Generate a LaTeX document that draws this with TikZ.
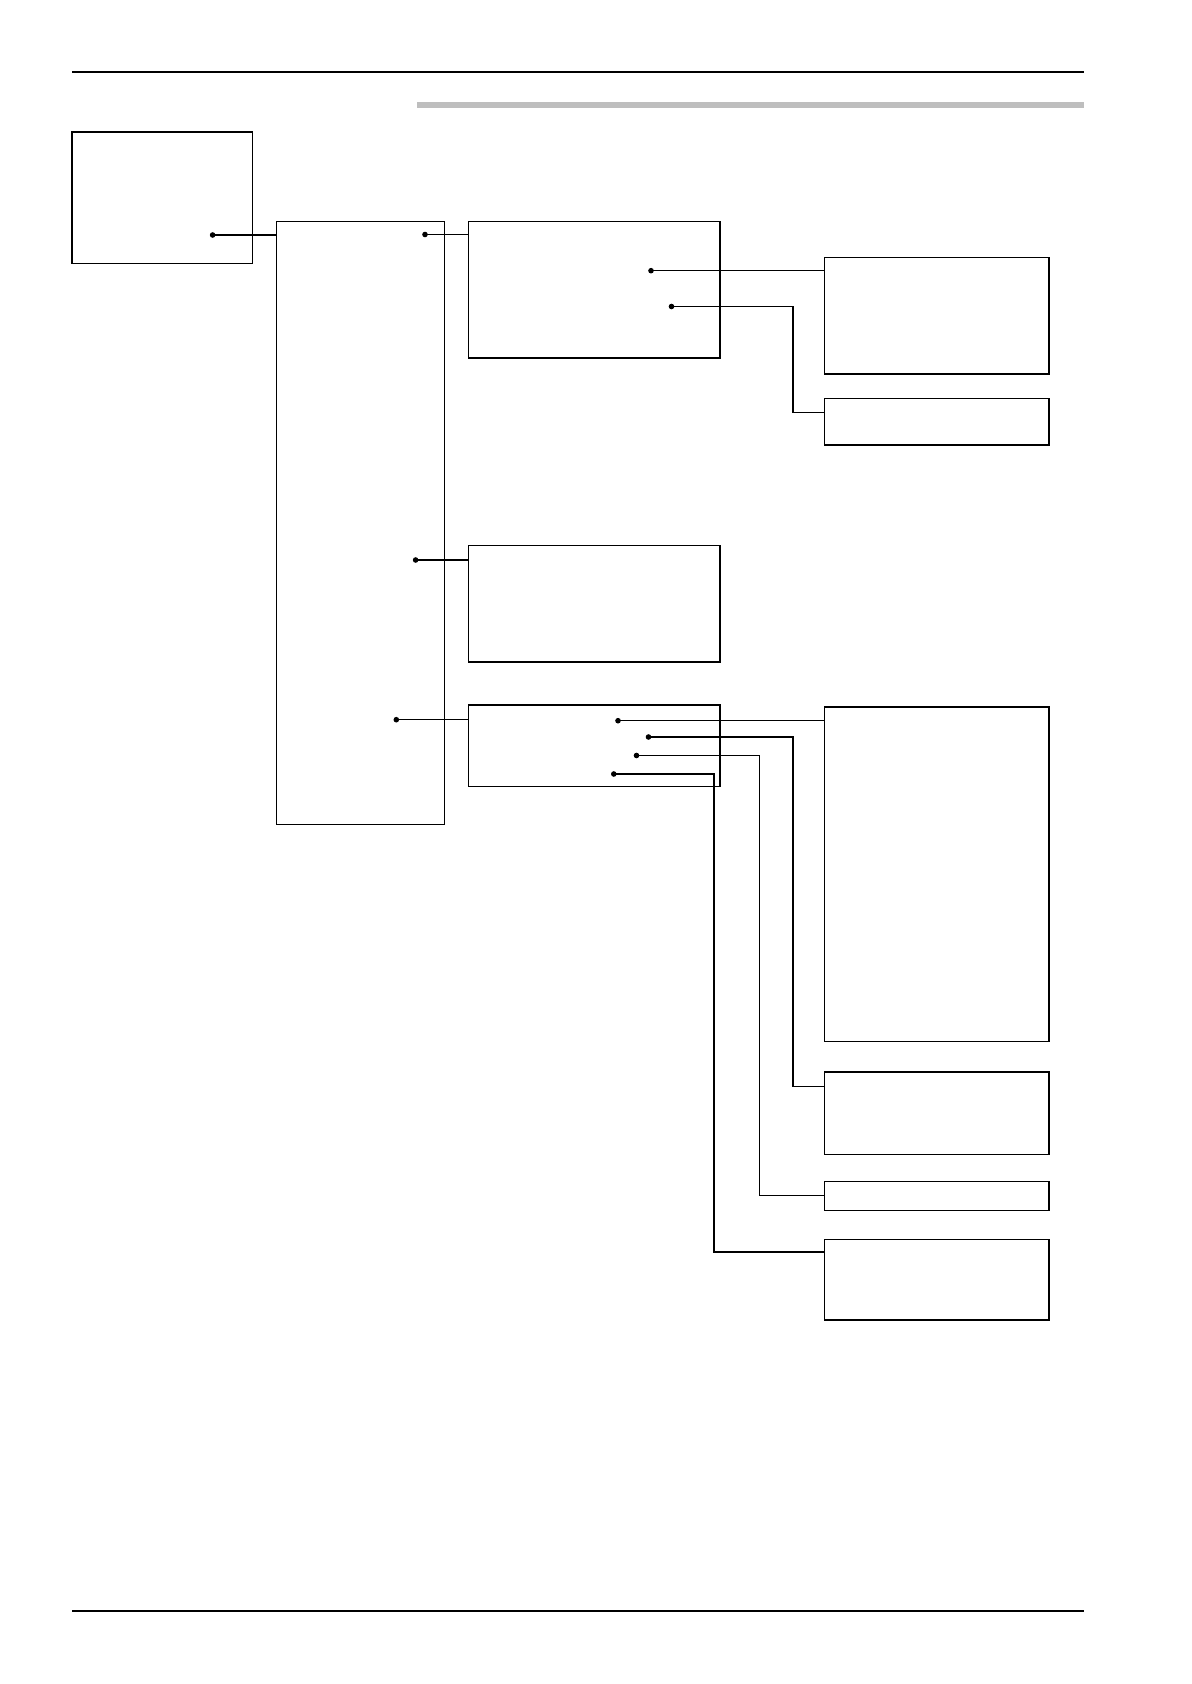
\documentclass[tikz,border=0pt]{standalone}
\usetikzlibrary{fit}
\definecolor{bargray}{RGB}{190,190,190}
\begin{document}
\begin{tikzpicture}[x=0.5pt,y=-0.5pt,
  box/.style={draw, line width=0.55pt, inner sep=0pt, outer sep=0pt},
  wire/.style={line width=0.55pt},
  rule/.style={line width=1.1pt}]
\useasboundingbox (0,0) rectangle (1191,1684);
% page rules and grey bar
\coordinate (r1a) at (72,72);  \coordinate (r1b) at (1084,72);
\coordinate (r2a) at (72,1611); \coordinate (r2b) at (1084,1611);
\draw[rule] (r1a) -- (r1b);
\draw[rule] (r2a) -- (r2b);
\fill[bargray] (417,102) rectangle (1084,108.5);
% boxes
\node[box, fit={(72,132) (252.4,263.3)}] (A) {};
\node[box, fit={(276.5,221.3) (444.5,824.8)}] (B) {};
\node[box, fit={(468.5,221.3) (720,358)}] (C) {};
\node[box, fit={(824.5,257.3) (1049,374)}] (D) {};
\node[box, fit={(824.5,398.4) (1049,445)}] (E) {};
\node[box, fit={(468.5,545.8) (720,662)}] (F) {};
\node[box, fit={(468.5,705) (720,786.2)}] (G) {};
\node[box, fit={(824.5,707) (1049,1041.7)}] (H) {};
\node[box, fit={(824.5,1072) (1049,1154.4)}] (I) {};
\node[box, fit={(824.5,1181.3) (1049,1210.3)}] (J) {};
\node[box, fit={(824.5,1239.4) (1049,1320)}] (K) {};
% connection points
\coordinate (a1) at (212.6,235);
\coordinate (b1) at (425,234.5);
\coordinate (b2) at (415.6,560);
\coordinate (b3) at (396.3,719.7);
\coordinate (c1) at (651,270.7);
\coordinate (c2) at (671.5,306.5);
\coordinate (g1) at (618,720.7);
\coordinate (g2) at (648.5,737);
\coordinate (g3) at (636.5,755.5);
\coordinate (g4) at (613.8,774);
% elbows
\coordinate (ec2) at (793,412.4);
\coordinate (eg2) at (793,1086.5);
\coordinate (eg3) at (759.3,1195.7);
\coordinate (eg4) at (714,1252);
% straight wires
\draw[wire] (a1) -- (a1 -| B.west);
\draw[wire] (b1) -- (b1 -| C.west);
\draw[wire] (b2) -- (b2 -| F.west);
\draw[wire] (b3) -- (b3 -| G.west);
\draw[wire] (c1) -- (c1 -| D.west);
\draw[wire] (g1) -- (g1 -| H.west);
% elbow wires
\draw[wire] (c2) -| (ec2) -- (ec2 -| E.west);
\draw[wire] (g2) -| (eg2) -- (eg2 -| I.west);
\draw[wire] (g3) -| (eg3) -- (eg3 -| J.west);
\draw[wire] (g4) -| (eg4) -- (eg4 -| K.west);
% dots
\foreach \p in {a1,b1,b2,b3,c1,c2,g1,g2,g3,g4}
  \fill (\p) circle[radius=1.4pt];
\end{tikzpicture}
\end{document}
